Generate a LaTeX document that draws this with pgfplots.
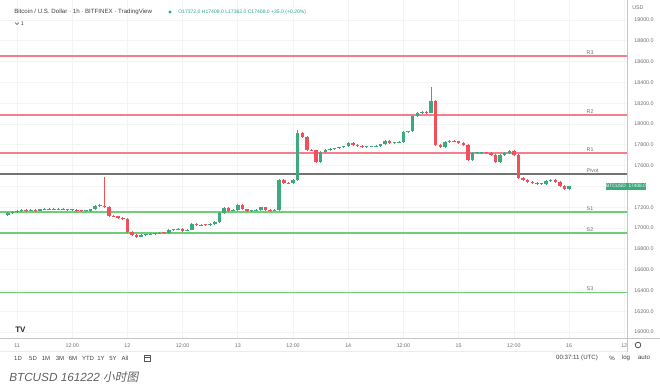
\documentclass[border=0pt]{standalone}
\usepackage{pgfplots}
\pgfplotsset{compat=1.18}
\usepackage{pgfplotstable}
\usepackage{fontspec}
\setmainfont{Liberation Sans}
\newfontfamily\cjk[AutoFakeSlant=0.2]{Noto Sans CJK SC}
\definecolor{upc}{RGB}{60,170,125}
\definecolor{dnc}{RGB}{240,80,90}
\definecolor{rline}{RGB}{245,125,140}
\definecolor{sline}{RGB}{110,205,120}
\definecolor{txt}{RGB}{110,110,115}
\definecolor{tvgreen}{RGB}{38,166,154}

\pgfplotstableread{
t o h l c
-2 17125 17150 17118 17144
-1 17144 17160 17138 17154
0 17154 17170 17148 17163
1 17163 17180 17158 17173
2 17173 17180 17160 17168
3 17168 17180 17162 17173
4 17173 17180 17160 17168
5 17168 17185 17162 17178
6 17178 17190 17172 17183
7 17183 17190 17170 17178
8 17178 17188 17172 17180
9 17180 17192 17175 17185
10 17185 17192 17170 17178
11 17178 17185 17166 17173
12 17173 17182 17166 17175
13 17175 17182 17160 17168
14 17168 17175 17156 17163
15 17163 17172 17156 17165
16 17165 17186 17158 17178
17 17178 17220 17172 17212
18 17212 17226 17205 17216
19 17216 17490 17195 17202
20 17202 17208 17108 17115
21 17115 17122 17104 17111
22 17111 17118 17088 17096
23 17096 17102 17084 17091
24 17091 17098 16950 16962
25 16962 16970 16925 16933
26 16933 16940 16905 16918
27 16918 16940 16910 16933
28 16933 16945 16926 16938
29 16938 16950 16930 16942
30 16942 16955 16935 16947
31 16947 16958 16940 16952
32 16952 16960 16942 16950
33 16950 16990 16944 16981
34 16981 16992 16974 16986
35 16986 16998 16978 16990
36 16990 16998 16966 16975
37 16975 16990 16968 16985
38 16985 17045 16978 17038
39 17038 17045 17016 17024
40 17024 17035 17018 17029
41 17029 17036 17020 17027
42 17027 17044 17020 17038
43 17038 17065 17030 17058
44 17058 17152 17050 17144
45 17144 17200 17136 17192
46 17192 17198 17160 17168
47 17168 17180 17160 17173
48 17173 17230 17166 17221
49 17221 17228 17170 17178
50 17178 17185 17156 17163
51 17163 17175 17156 17168
52 17168 17180 17160 17173
53 17173 17205 17166 17197
54 17197 17204 17166 17173
55 17173 17180 17160 17168
56 17168 17180 17160 17173
57 17173 17470 17166 17462
58 17462 17470 17425 17433
59 17433 17440 17420 17428
60 17428 17470 17420 17462
61 17462 17945 17455 17913
62 17913 17920 17868 17875
63 17875 17882 17742 17750
64 17750 17758 17738 17745
65 17745 17752 17628 17635
66 17635 17738 17628 17731
67 17731 17758 17724 17750
68 17750 17766 17744 17760
69 17760 17772 17752 17765
70 17765 17780 17758 17774
71 17774 17790 17768 17784
72 17784 17825 17778 17817
73 17817 17824 17790 17798
74 17798 17805 17780 17788
75 17788 17795 17772 17779
76 17779 17788 17772 17781
77 17781 17790 17774 17784
78 17784 17795 17778 17788
79 17788 17810 17780 17803
80 17803 17845 17796 17837
81 17837 17844 17810 17817
82 17817 17830 17810 17822
83 17822 17835 17815 17827
84 17827 17930 17820 17923
85 17923 17936 17915 17928
86 17928 18085 17920 18077
87 18077 18114 18070 18106
88 18106 18122 18098 18115
89 18115 18122 18102 18110
90 18110 18356 18102 18221
91 18221 18228 17790 17798
92 17798 17805 17770 17779
93 17779 17834 17772 17827
94 17827 17845 17820 17837
95 17837 17844 17825 17832
96 17832 17840 17810 17817
97 17817 17824 17790 17798
98 17798 17805 17646 17654
99 17654 17728 17646 17721
100 17721 17732 17714 17723
101 17723 17734 17716 17726
102 17726 17733 17714 17721
103 17721 17728 17695 17702
104 17702 17710 17628 17635
105 17635 17710 17628 17702
106 17702 17728 17695 17721
107 17721 17748 17714 17740
108 17740 17747 17695 17702
109 17702 17710 17470 17481
110 17481 17488 17455 17462
111 17462 17470 17435 17442
112 17442 17450 17426 17433
113 17433 17440 17416 17423
114 17423 17430 17414 17421
115 17421 17460 17414 17452
116 17452 17470 17445 17462
117 17462 17470 17435 17442
118 17442 17450 17396 17404
119 17404 17410 17365 17372
120 17372 17408 17362 17408
}\candles

\begin{document}
\begin{tikzpicture}[x=0.75pt,y=-0.75pt]
\path[use as bounding box] (0,0) rectangle (660,387);
\begin{axis}[
  at={(0,0)}, anchor=north west,
  scale only axis, width=470.25pt, height=253.5pt,
  xmin=-3.7, xmax=132.6, ymin=15942, ymax=19192,
  axis line style={draw=none},
  major tick length=0pt,
  xtick={0,12,24,36,48,60,72,84,96,108,120,132},
  xticklabels={11,12:00,12,12:00,13,12:00,14,12:00,15,12:00,16,12},
  ytick={16000,16200,...,19000},
  yticklabels={16000.0,16200.0,16400.0,16600.0,16800.0,17000.0,17200.0,,17600.0,17800.0,18000.0,18200.0,18400.0,18600.0,18800.0,19000.0},
  scaled y ticks=false,
  yticklabel pos=right,
  tick label style={font=\fontsize{4}{5}\selectfont, text=txt},
  yticklabel style={anchor=west, xshift=2pt},
  xticklabel style={yshift=-1pt},
  grid=major, grid style={gray!9, line width=0.5pt},
  clip=true,
]
% level lines
\addplot[rline, line width=1.1pt] coordinates {(-5,18654) (134,18654)};
\addplot[rline, line width=1.1pt] coordinates {(-5,18087) (134,18087)};
\addplot[rline, line width=1.1pt] coordinates {(-5,17721) (134,17721)};
\addplot[black!55, line width=1.1pt] coordinates {(-5,17519) (134,17519)};
\addplot[sline, line width=1.1pt] coordinates {(-5,17154) (134,17154)};
\addplot[sline, line width=1.1pt] coordinates {(-5,16952) (134,16952)};
\addplot[sline, line width=1.1pt] coordinates {(-5,16380) (134,16380)};
% wicks
\addplot[draw=none, mark=none, restrict expr to domain={\thisrow{c}-\thisrow{o}}{0:100000},
  error bars/.cd, y dir=both, y explicit, error mark=none,
  error bar style={draw=upc, line width=0.5pt}]
  table[x=t, y=c, y error plus expr=\thisrow{h}-\thisrow{c}, y error minus expr=\thisrow{c}-\thisrow{l}] {\candles};
\addplot[draw=none, mark=none, restrict expr to domain={\thisrow{c}-\thisrow{o}}{-100000:-0.01},
  error bars/.cd, y dir=both, y explicit, error mark=none,
  error bar style={draw=dnc, line width=0.5pt}]
  table[x=t, y=c, y error plus expr=\thisrow{h}-\thisrow{c}, y error minus expr=\thisrow{c}-\thisrow{l}] {\candles};
% bodies
\addplot[draw=none, mark=none, restrict expr to domain={\thisrow{c}-\thisrow{o}}{0:100000},
  error bars/.cd, y dir=plus, y explicit, error mark=none,
  error bar style={draw=upc, line width=2.6pt}]
  table[x=t, y=o, y error plus expr={max(\thisrow{c}-\thisrow{o},7)}] {\candles};
\addplot[draw=none, mark=none, restrict expr to domain={\thisrow{c}-\thisrow{o}}{-100000:-0.01},
  error bars/.cd, y dir=plus, y explicit, error mark=none,
  error bar style={draw=dnc, line width=2.6pt}]
  table[x=t, y=c, y error plus expr={max(\thisrow{o}-\thisrow{c},7)}] {\candles};
% level labels
\foreach \lv/\nm in {18654/R3,18087/R2,17721/R1,17519/Pivot,17154/S1,16952/S2,16380/S3}{
  \edef\tmp{\noexpand\node[font=\noexpand\fontsize{4}{5}\noexpand\selectfont, text=txt, anchor=south west, inner sep=1pt] at (axis cs:123.5,\lv) {\nm};}
  \tmp
}
\end{axis}
% frame lines
\draw[gray!45, line width=0.6pt] (0,338) -- (660,338);
\draw[gray!45, line width=0.6pt] (627,0) -- (627,352);
\draw[gray!15, line width=0.5pt] (0,351) -- (627,351);
% price box
\fill[upc] (606,183) rectangle (646,189.5);
\node[font=\fontsize{3.6}{4}\selectfont, text=white, inner sep=0pt] at (626,186.3) {BTCUSD\ \ 17408.0};
% header
\node[anchor=west, inner sep=0pt, font=\fontsize{4.6}{5}\selectfont, text=black!75] at (14,12) {Bitcoin / U.S. Dollar · 1h · BITFINEX · TradingView};
\fill[tvgreen] (170,12) circle (1.6);
\node[anchor=west, inner sep=0pt, font=\fontsize{3.8}{5}\selectfont, text=tvgreen] at (178,12) {O17372.0 H17408.0 L17362.0 C17408.0 +35.0 (+0.20\%)};
\draw[black!70, line width=0.5pt] (15,22.5) -- (17,24.5) -- (19,22.5);
\node[anchor=west, inner sep=0pt, font=\fontsize{4}{5}\selectfont, text=black!75] at (20.5,24) {1};
\node[anchor=west, inner sep=0pt, font=\fontsize{4}{5}\selectfont, text=txt] at (632,8) {USD};
% TV logo
\node[anchor=west, inner sep=0pt, font=\fontsize{6}{6}\selectfont\bfseries, text=black!85] at (15,330) {TV};
% gear
\draw[black!70, line width=0.6pt] (638,345) circle (2.8);
% bottom controls
\foreach \xx/\lab in {18/1D,33/5D,46/1M,60/3M,73/6M,88/YTD,101/1Y,113/5Y,125/All}{
  \node[font=\fontsize{4.5}{5}\selectfont, text=black!75, inner sep=0pt] at (\xx,358) {\lab};
}
\draw[black!65, line width=0.5pt] (144,355) rectangle (150,361);
\draw[black!65, line width=0.5pt] (144,357) -- (150,357);
\node[font=\fontsize{4.6}{5}\selectfont, text=black!75, inner sep=0pt] at (577,358) {00:37:11 (UTC)};
\node[font=\fontsize{4.6}{5}\selectfont, text=black!75, inner sep=0pt] at (612,358) {\%};
\node[font=\fontsize{4.6}{5}\selectfont, text=black!75, inner sep=0pt] at (626,358) {log};
\node[font=\fontsize{4.6}{5}\selectfont, text=black!75, inner sep=0pt] at (644,358) {auto};
% caption
\node[anchor=west, inner sep=0pt, font=\fontsize{8.8}{10}\selectfont\itshape, text=black!62] at (9,377) {BTCUSD 161222 {\cjk\itshape 小时图}};
\end{tikzpicture}
\end{document}
